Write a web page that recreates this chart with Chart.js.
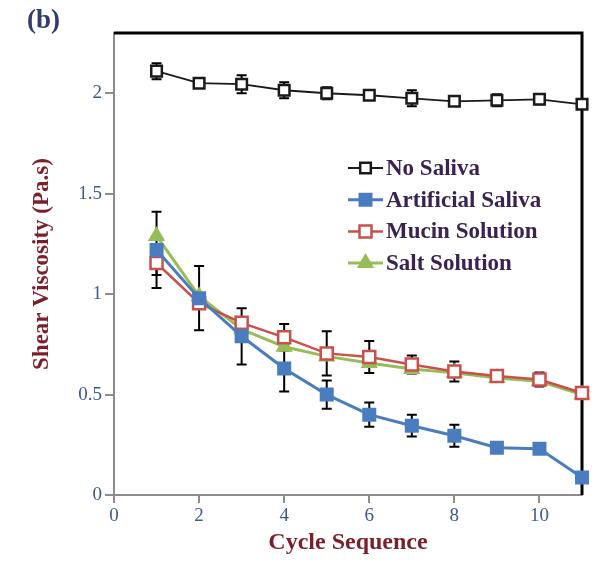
<!DOCTYPE html>
<html>
<head>
<meta charset="utf-8">
<script src="https://cdn.jsdelivr.net/npm/chart.js@4.4.0/dist/chart.umd.min.js"></script>
<style>
  html, body { margin: 0; padding: 0; background: #fff; }
  #wrap { width: 603px; height: 571px; }
</style>
</head>
<body>
<div id="wrap"><canvas id="c" width="603" height="571"></canvas></div>
<script>
// Shear viscosity (Pa.s) over repeated cycles
const cycles = [1, 2, 3, 4, 5, 6, 7, 8, 9, 10, 11];

const noSaliva      = [2.11, 2.05, 2.045, 2.015, 2.0, 1.99, 1.975, 1.96, 1.965, 1.97, 1.945];
const noSalivaErr   = [0.04, 0.015, 0.045, 0.04, 0.03, 0.02, 0.04, 0.01, 0.03, 0.025, 0.01];

const artificial    = [1.22, 0.98, 0.79, 0.63, 0.50, 0.40, 0.345, 0.295, 0.235, 0.23, 0.087];
const artificialErr = [0.19, 0.16, 0.14, 0.115, 0.07, 0.06, 0.054, 0.055, 0, 0.025, 0];

const mucin         = [1.155, 0.955, 0.857, 0.785, 0.705, 0.687, 0.65, 0.615, 0.592, 0.575, 0.508];
const mucinErr      = [0.06, 0, 0, 0.066, 0.11, 0.08, 0.045, 0.05, 0.02, 0.035, 0];

const salt          = [1.29, 0.99, 0.825, 0.738, 0.69, 0.657, 0.627, 0.608, 0.582, 0.566, 0.5];
const saltErr       = [0, 0, 0, 0, 0, 0, 0, 0, 0, 0, 0];

const seriesNames = ['No Saliva', 'Artificial Saliva', 'Mucin Solution', 'Salt Solution'];
const yTicks = [0, 0.5, 1, 1.5, 2];
const xTicks = [0, 2, 4, 6, 8, 10];

const SERIF = "'Liberation Serif', 'Times New Roman', serif";

const toPoints = arr => cycles.map((c, i) => ({ x: c, y: arr[i] }));

// Frame (top/right), error bars, legend and panel tag
const decorations = {
  id: 'decorations',
  beforeDatasetsDraw(chart) {
    const { ctx, chartArea: a, scales: { x, y } } = chart;
    ctx.save();
    ctx.strokeStyle = '#000';
    ctx.lineWidth = 3;
    ctx.beginPath();
    ctx.moveTo(a.left, a.top);
    ctx.lineTo(a.right, a.top);
    ctx.lineTo(a.right, a.bottom);
    ctx.stroke();

    ctx.lineWidth = 2;
    ctx.strokeStyle = '#000';
    chart.data.datasets.forEach(ds => {
      if (!ds.errors) return;
      ds.data.forEach((p, i) => {
        const e = ds.errors[i];
        if (!e) return;
        const px = x.getPixelForValue(p.x);
        const top = y.getPixelForValue(p.y + e);
        const bot = y.getPixelForValue(p.y - e);
        ctx.beginPath();
        ctx.moveTo(px, top); ctx.lineTo(px, bot);
        ctx.moveTo(px - 5, top); ctx.lineTo(px + 5, top);
        ctx.moveTo(px - 5, bot); ctx.lineTo(px + 5, bot);
        ctx.stroke();
      });
    });
    ctx.restore();
  },
  afterDraw(chart) {
    const { ctx, chartArea: a } = chart;
    ctx.save();
    // legend
    const lx = a.left + 234, ly = a.top + 135, gap = 31.7;
    chart.data.datasets.forEach((ds, i) => {
      const yy = ly + i * gap;
      ctx.strokeStyle = ds.borderColor;
      ctx.lineWidth = ds.borderWidth;
      ctx.beginPath();
      ctx.moveTo(lx, yy); ctx.lineTo(lx + 35, yy);
      ctx.stroke();
      ctx.fillStyle = ds.pointBackgroundColor;
      ctx.strokeStyle = ds.pointBorderColor;
      ctx.lineWidth = ds.pointBorderWidth;
      Chart.helpers.drawPoint(ctx, {
        pointStyle: ds.pointStyle, radius: ds.pointRadius,
        borderWidth: ds.pointBorderWidth, rotation: 0
      }, lx + 17.5, yy);
      ctx.fillStyle = '#3b2350';
      ctx.font = 'bold 23px ' + SERIF;
      ctx.textBaseline = 'middle';
      ctx.textAlign = 'left';
      ctx.fillText(ds.label, lx + 38, yy + 1);
    });
    // panel tag
    ctx.fillStyle = '#2f3c6e';
    ctx.font = 'bold 27px ' + SERIF;
    ctx.textBaseline = 'middle';
    ctx.fillText('(b)', 27, 21);
    ctx.restore();
  }
};

const makeSet = (label, arr, err, color, style, radius, fill, pbw, lw) => ({
  label,
  data: toPoints(arr),
  errors: err,
  borderColor: color,
  borderWidth: lw,
  pointStyle: style,
  pointRadius: radius,
  pointHoverRadius: radius,
  pointBackgroundColor: fill,
  pointBorderColor: color,
  pointBorderWidth: pbw,
  tension: 0,
  showLine: true,
  clip: false
});

new Chart(document.getElementById('c'), {
  type: 'scatter',
  data: {
    datasets: [
      makeSet(seriesNames[0], noSaliva, noSalivaErr, '#1a1a1a', 'rect', 7.5, '#ffffff', 2.5, 1.8),
      makeSet(seriesNames[1], artificial, artificialErr, '#4a7dbf', 'rect', 8.5, '#4a7dbf', 2, 3),
      makeSet(seriesNames[2], mucin, mucinErr, '#c9504c', 'rect', 8.5, '#ffffff', 2.5, 2.5),
      makeSet(seriesNames[3], salt, saltErr, '#97bd56', 'triangle', 8, '#97bd56', 2, 3)
    ]
  },
  options: {
    responsive: false,
    animation: false,
    devicePixelRatio: 1,
    layout: { padding: { top: 33, right: 21, left: 0, bottom: 0 } },
    plugins: { legend: { display: false }, tooltip: { enabled: false } },
    scales: {
      x: {
        type: 'linear',
        min: 0, max: 11,
        afterFit: s => { s.height = 76; },
        afterBuildTicks: s => { s.ticks = xTicks.map(v => ({ value: v })); },
        ticks: { font: { family: SERIF, size: 19 }, color: '#3d5a8c', padding: 2, maxRotation: 0,
                 callback: v => String(v) },
        grid: { drawOnChartArea: false, drawTicks: true, tickLength: 8, color: '#8c8c8c', lineWidth: 2 },
        border: { display: true, color: '#8c8c8c', width: 2 },
        title: {
          display: true, text: 'Cycle Sequence', color: '#7b1f2a',
          font: { family: SERIF, size: 24, weight: 'bold' },
          padding: { top: 0, bottom: 14 }
        }
      },
      y: {
        type: 'linear',
        min: 0, max: 2.3,
        afterFit: s => { s.width = 114; },
        afterBuildTicks: s => { s.ticks = yTicks.map(v => ({ value: v })); },
        ticks: { font: { family: SERIF, size: 19 }, color: '#3d5a8c', padding: 3,
                 callback: v => String(v) },
        grid: { drawOnChartArea: false, drawTicks: true, tickLength: 9, color: '#8c8c8c', lineWidth: 2 },
        border: { display: true, color: '#8c8c8c', width: 2 },
        title: {
          display: true, text: 'Shear Viscosity (Pa.s)', color: '#7b1f2a',
          font: { family: SERIF, size: 23, weight: 'bold' },
          padding: { top: 28, bottom: 0 }
        }
      }
    }
  },
  plugins: [decorations]
});
</script>
</body>
</html>
